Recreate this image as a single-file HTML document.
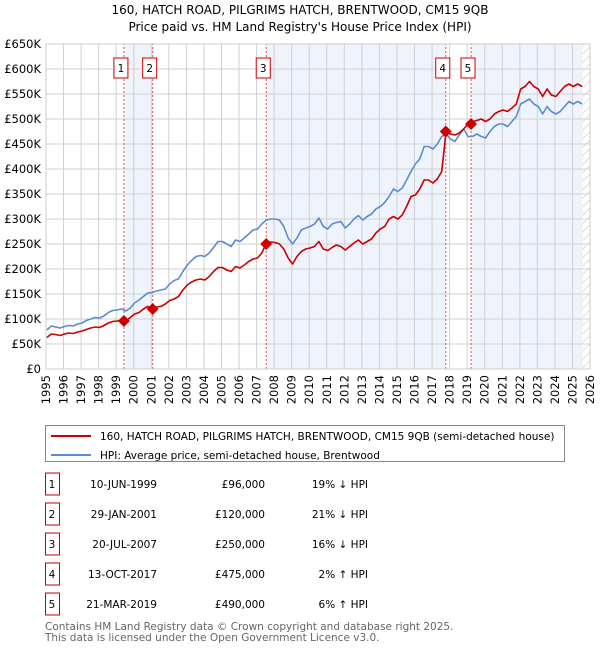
<!DOCTYPE html>
<html><head><meta charset="utf-8"><style>
body{margin:0;background:#fff;font-family:"Liberation Sans","DejaVu Sans",sans-serif;}
svg text{font-family:"DejaVu Sans","Liberation Sans",sans-serif;}
</style></head><body>
<svg width="600" height="650" xmlns="http://www.w3.org/2000/svg" id="chart">
<defs><pattern id="hatch" width="6" height="6" patternUnits="userSpaceOnUse" patternTransform="rotate(45)"><line x1="0" y1="0" x2="0" y2="6" stroke="#bbb" stroke-width="1"/></pattern></defs>
<text x="300" y="14" text-anchor="middle" font-size="12">160, HATCH ROAD, PILGRIMS HATCH, BRENTWOOD, CM15 9QB</text>
<text x="300" y="31" text-anchor="middle" font-size="12">Price paid vs. HM Land Registry's House Price Index (HPI)</text>
<g id="plot"></g>
<g>
<rect x="45.5" y="425.5" width="519" height="36" fill="#fff" stroke="#888"/>
<line x1="51" y1="436" x2="91" y2="436" stroke="#cc0000" stroke-width="2"/>
<text x="100" y="440" font-size="10.5">160, HATCH ROAD, PILGRIMS HATCH, BRENTWOOD, CM15 9QB (semi-detached house)</text>
<line x1="51" y1="455" x2="91" y2="455" stroke="#5b8bd0" stroke-width="2"/>
<text x="100" y="459" font-size="10.5">HPI: Average price, semi-detached house, Brentwood</text>
</g>
<g id="table" font-size="10.5"></g>
<text x="45" y="630" font-size="10.5" fill="#666">Contains HM Land Registry data © Crown copyright and database right 2025.</text>
<text x="45" y="641" font-size="10.5" fill="#666">This data is licensed under the Open Government Licence v3.0.</text>
</svg>
<script>
const hpiValues=[78,86,84,82,85,87,86,90,92,97,100,103,102,106,113,117,118,120,116,122,132,138,145,152,153,156,158,160,170,177,180,195,208,217,225,227,225,232,243,255,255,250,245,258,255,262,270,278,280,290,298,300,300,298,285,262,250,262,278,282,285,290,302,285,280,290,293,295,282,290,300,307,298,305,310,320,325,333,345,360,355,362,378,395,410,420,445,445,440,450,465,470,460,455,468,480,465,465,470,465,462,475,485,490,490,485,495,505,530,535,540,530,525,510,525,515,510,515,525,535,530,535,530];
const priceValues=[63,70,69,67,70,72,71,74,76,79,82,84,83,87,92,95,96,98,96,103,110,113,120,125,120,124,125,130,137,140,145,158,168,174,178,180,178,185,195,203,203,198,195,205,202,208,215,220,222,232,252,254,253,250,240,222,210,225,235,240,242,245,255,240,237,243,248,245,238,245,252,258,250,255,260,272,280,285,300,305,300,308,325,345,348,360,378,378,372,380,395,475,470,468,472,480,490,495,497,500,495,500,510,515,518,515,522,530,560,565,575,565,560,545,560,548,545,555,565,570,565,570,565];
const saleNums=["1","2","3","4","5"];
const saleTimes=[1999.44,2001.08,2007.55,2017.78,2019.22];
const salePrices=[96,120,250,475,490];
const saleDates=["10-JUN-1999","29-JAN-2001","20-JUL-2007","13-OCT-2017","21-MAR-2019"];
const saleLabels=["£96,000","£120,000","£250,000","£475,000","£490,000"];
const saleHpi=["19% ↓ HPI","21% ↓ HPI","16% ↓ HPI","2% ↑ HPI","6% ↑ HPI"];
const yTicks=[0,50,100,150,200,250,300,350,400,450,500,550,600,650];
const xYears=[1995,1996,1997,1998,1999,2000,2001,2002,2003,2004,2005,2006,2007,2008,2009,2010,2011,2012,2013,2014,2015,2016,2017,2018,2019,2020,2021,2022,2023,2024,2025,2026];
const dataEnd=2025.6;
const NS="http://www.w3.org/2000/svg";
const X=t=>46+(t-1995)*(544/31), Y=v=>369-v*0.5;
const g=document.getElementById('plot');
function mk(tag,attrs,parent){const e=document.createElementNS(NS,tag);for(const k in attrs)e.setAttribute(k,attrs[k]);(parent||g).appendChild(e);return e;}
[[0,1],[2,3],[4,null]].forEach(p=>{const x1=X(saleTimes[p[0]]),x2=p[1]===null?X(dataEnd):X(saleTimes[p[1]]);
const r=mk('rect',{x:x1,y:Y(650),width:x2-x1,height:325,fill:'#eef3fc'});

});
const hr=mk('rect',{x:X(dataEnd),y:Y(650),width:X(2026)-X(dataEnd),height:325,fill:'url(#hatch)'});


yTicks.forEach(v=>{const l=mk('line',{x1:X(1995),x2:X(2026),y1:Y(v),y2:Y(v),stroke:'#d0d0d0'});


const t=mk('text',{x:41,y:Y(v)+4,'text-anchor':'end','font-size':'11.5'});t.textContent=v===0?'£0':'£'+v+'K';

});
xYears.forEach(yr=>{const l=mk('line',{x1:X(yr),x2:X(yr),y1:Y(0),y2:Y(650),stroke:'#d0d0d0'});


const t=mk('text',{x:0,y:0,'font-size':'11.5','text-anchor':'end',transform:`translate(${X(yr)+4},${Y(0)+6}) rotate(-90)`});t.textContent=yr;

});
saleTimes.forEach((t,i)=>{const l=mk('line',{x1:X(t),x2:X(t),y1:Y(0),y2:Y(650),stroke:'#e05050','stroke-dasharray':'2,2'});


const off=-3;
const r=mk('rect',{x:X(t)+off-7,y:Y(622),width:14,height:20,fill:'#fff',stroke:'#cc0000'});


const tx=mk('text',{x:X(t)+off,y:Y(622)+14,'text-anchor':'middle','font-size':'10.5'});tx.textContent=saleNums[i];

});
function line(vals,color,name){const pts=vals.map((v,i)=>X(1995+i/4+0.05)+','+Y(v)).join(' ');
const p=mk('polyline',{points:pts,fill:'none',stroke:color,'stroke-width':1.6,'stroke-linejoin':'round'});

}
line(hpiValues,'#5b8bd0','hpi-line');
line(priceValues,'#cc0000','price-line');
saleTimes.forEach((t,i)=>{const x=X(t),y=Y(salePrices[i]);
const d=mk('polygon',{points:`${x},${y-6} ${x+6},${y} ${x},${y+6} ${x-6},${y}`,fill:'#cc0000'});

});
mk('rect',{x:X(1995),y:Y(650),width:X(2026)-X(1995),height:325,fill:'none',stroke:'#ccc'});
const tb=document.getElementById('table');
saleNums.forEach((n,i)=>{const y=484+i*30;
const r=mk('rect',{x:45.5,y:y-11,width:14,height:22,fill:'#fff',stroke:'#cc0000'},tb);


const cells=[[52,'middle',n],[157,'end',saleDates[i]],[265,'end',saleLabels[i]],[368,'end',saleHpi[i]]];
cells.forEach(c=>{const t=mk('text',{x:c[0],y:y+4,'text-anchor':c[1]},tb);t.textContent=c[2];

});});
</script>
</body></html>
